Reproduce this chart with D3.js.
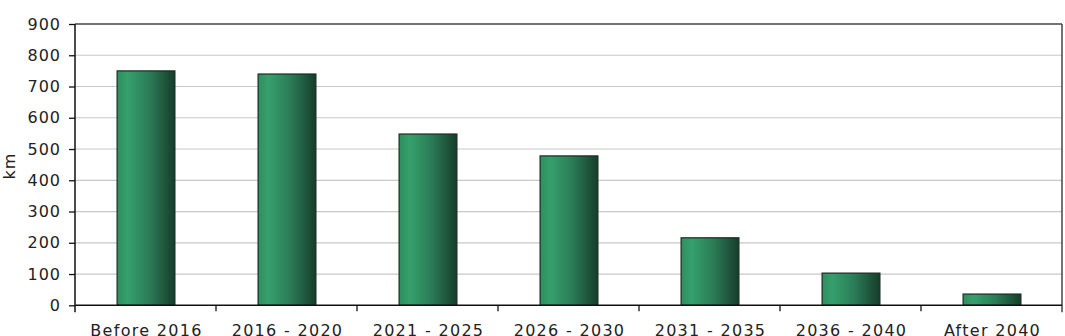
<!DOCTYPE html>
<html><head><meta charset="utf-8">
<script src="https://cdn.jsdelivr.net/npm/d3@7"></script>
<style>
html,body{margin:0;padding:0;background:#fff;overflow:hidden}
text{font-family:"DejaVu Sans",Verdana,sans-serif;fill:#222}
</style></head>
<body><svg id="c" width="1065" height="336"></svg>
<script>
const categories = ["Before 2016","2016 - 2020","2021 - 2025","2026 - 2030","2031 - 2035","2036 - 2040","After 2040"];
const values = [750, 740, 548, 478, 216, 103, 36];
const yTicks = [0,100,200,300,400,500,600,700,800,900];
const yLabel = "km";

const svg = d3.select("#c");
const m = {l:75, r:1062, t:24, b:305.3};
const x = d3.scaleBand().domain(categories).range([m.l, m.r]).padding(0);
const y = d3.scaleLinear().domain([0,900]).range([m.b, m.t]);

const defs = svg.append("defs");
const g = defs.append("linearGradient").attr("id","bg").attr("x1","0").attr("x2","1").attr("y1","0").attr("y2","0");
[[0,"#2d8f5f"],[0.18,"#35a06c"],[0.55,"#2b7d57"],[1,"#163d2b"]].forEach(s=>g.append("stop").attr("offset",s[0]).attr("stop-color",s[1]));

// gridlines
svg.append("g").selectAll("line").data(yTicks.filter(d=>d>0 && d<900)).join("line")
  .attr("x1",m.l).attr("x2",m.r).attr("y1",d=>y(d)).attr("y2",d=>y(d))
  .attr("stroke","#c8c8c8").attr("stroke-width",1.2);

// top & right border
svg.append("line").attr("x1",m.l).attr("x2",m.r).attr("y1",y(900)).attr("y2",y(900)).attr("stroke","#444").attr("stroke-width",1.5);
svg.append("line").attr("x1",m.r).attr("x2",m.r).attr("y1",y(900)).attr("y2",m.b+7).attr("stroke","#444").attr("stroke-width",1.5);

// bars
const bw = x.bandwidth()*0.41;
svg.append("g").selectAll("rect").data(values).join("rect")
  .attr("x",(d,i)=>x(categories[i])+x.bandwidth()/2-bw/2+0.5)
  .attr("width",bw)
  .attr("y",d=>y(d))
  .attr("height",d=>y(0)-y(d))
  .attr("fill","url(#bg)")
  .attr("stroke","#1c2b22").attr("stroke-width",1.2);

// y axis
const ya = svg.append("g").attr("transform",`translate(${m.l},0)`)
  .call(d3.axisLeft(y).tickValues(yTicks).tickSize(6).tickPadding(8).tickSizeOuter(0));
ya.select(".domain").attr("stroke","#111").attr("stroke-width",1.5).attr("d",`M0,${y(900)}V${m.b+7}`);
ya.selectAll(".tick line").attr("stroke","#111").attr("stroke-width",1.3);
ya.selectAll(".tick text").attr("font-size",16).attr("letter-spacing","1px").attr("font-family","DejaVu Sans").attr("fill","#222");

// x axis baseline and ticks at boundaries
svg.append("line").attr("x1",m.l).attr("x2",m.r).attr("y1",m.b).attr("y2",m.b).attr("stroke","#111").attr("stroke-width",1.5);
const bounds = categories.slice(1).map(c=>x(c));
svg.append("g").selectAll("line").data(bounds).join("line")
  .attr("x1",d=>d).attr("x2",d=>d).attr("y1",m.b).attr("y2",m.b+6)
  .attr("stroke","#111").attr("stroke-width",1.3);

svg.append("g").selectAll("text").data(categories).join("text")
  .attr("x",d=>x(d)+x.bandwidth()/2+1).attr("y",335.5)
  .attr("text-anchor","middle").attr("font-size",16).attr("letter-spacing","1.3px")
  .text(d=>d);

svg.append("text").attr("transform","translate(15,166) rotate(-90)")
  .attr("text-anchor","middle").attr("font-size",16).attr("letter-spacing","1px").text(yLabel);
</script></body></html>
